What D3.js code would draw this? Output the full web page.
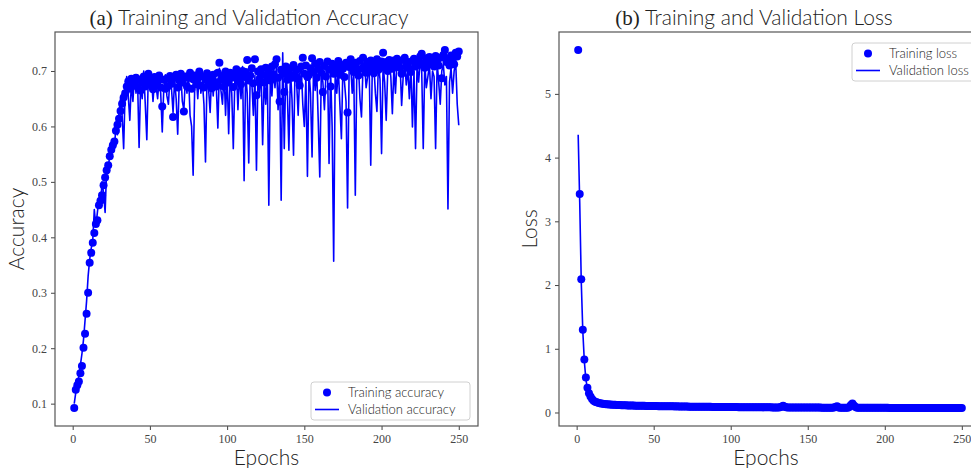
<!DOCTYPE html>
<html>
<head>
<meta charset="utf-8">
<script src="https://cdn.jsdelivr.net/npm/d3@7"></script>
<style>
  body { margin: 0; background: #fff; }
  svg { display: block; }
</style>
</head>
<body>
<svg id="chart" width="971" height="468"></svg>
<script>

// EPOCHS 1..250
let epochs = d3.range(1, 251)

let train_acc = [
  0.092, 0.125, 0.133, 0.140, 0.155, 0.168, 0.201, 0.226, 0.262, 0.300,
  0.354, 0.372, 0.390, 0.408, 0.424, 0.431, 0.458, 0.466, 0.476, 0.494,
  0.508, 0.521, 0.530, 0.546, 0.558, 0.566, 0.573, 0.592, 0.603, 0.614,
  0.628, 0.641, 0.652, 0.660, 0.672, 0.681, 0.668, 0.686, 0.675, 0.683,
  0.688, 0.671, 0.684, 0.665, 0.679, 0.690, 0.672, 0.683, 0.695, 0.686,
  0.678, 0.667, 0.689, 0.674, 0.681, 0.692, 0.670, 0.636, 0.684, 0.668,
  0.686, 0.673, 0.691, 0.677, 0.617, 0.688, 0.693, 0.670, 0.683, 0.695,
  0.679, 0.627, 0.690, 0.672, 0.688, 0.697, 0.668, 0.685, 0.692, 0.676,
  0.687, 0.699, 0.674, 0.690, 0.670, 0.684, 0.696, 0.678, 0.688, 0.669,
  0.693, 0.680, 0.672, 0.697, 0.715, 0.684, 0.691, 0.672, 0.699, 0.687,
  0.679, 0.697, 0.688, 0.671, 0.695, 0.703, 0.682, 0.694, 0.676, 0.700,
  0.689, 0.698, 0.720, 0.683, 0.692, 0.705, 0.678, 0.721, 0.656, 0.699,
  0.686, 0.703, 0.693, 0.679, 0.706, 0.690, 0.699, 0.683, 0.708, 0.694,
  0.712, 0.721, 0.688, 0.645, 0.702, 0.695, 0.662, 0.708, 0.684, 0.697,
  0.705, 0.688, 0.711, 0.693, 0.702, 0.686, 0.674, 0.708, 0.724, 0.695,
  0.710, 0.689, 0.693, 0.705, 0.723, 0.698, 0.713, 0.688, 0.704, 0.716,
  0.697, 0.662, 0.709, 0.690, 0.717, 0.702, 0.672, 0.713, 0.695, 0.708,
  0.700, 0.718, 0.693, 0.711, 0.704, 0.689, 0.715, 0.625, 0.707, 0.721,
  0.710, 0.698, 0.715, 0.702, 0.692, 0.718, 0.704, 0.724, 0.709, 0.697,
  0.716, 0.703, 0.719, 0.708, 0.696, 0.714, 0.721, 0.702, 0.711, 0.717,
  0.733, 0.706, 0.716, 0.700, 0.720, 0.711, 0.704, 0.719, 0.709, 0.722,
  0.713, 0.706, 0.695, 0.720, 0.724, 0.709, 0.716, 0.704, 0.698, 0.718,
  0.722, 0.708, 0.719, 0.712, 0.726, 0.731, 0.714, 0.706, 0.723, 0.711,
  0.725, 0.713, 0.720, 0.708, 0.727, 0.718, 0.710, 0.724, 0.687, 0.729,
  0.738, 0.716, 0.722, 0.710, 0.728, 0.718, 0.712, 0.733, 0.726, 0.735
]

let val_acc = [
  0.100, 0.120, 0.130, 0.150, 0.170, 0.190, 0.215, 0.250, 0.285, 0.330,
  0.360, 0.380, 0.395, 0.450, 0.420, 0.445, 0.470, 0.455, 0.500, 0.480,
  0.445, 0.525, 0.515, 0.555, 0.545, 0.575, 0.560, 0.600, 0.585, 0.625,
  0.650, 0.620, 0.560, 0.668, 0.690, 0.655, 0.611, 0.680, 0.645, 0.692,
  0.660, 0.685, 0.562, 0.678, 0.650, 0.700, 0.640, 0.576, 0.695, 0.668,
  0.690, 0.645, 0.682, 0.672, 0.650, 0.688, 0.660, 0.590, 0.670, 0.693,
  0.655, 0.640, 0.690, 0.668, 0.625, 0.685, 0.650, 0.586, 0.680, 0.695,
  0.645, 0.630, 0.688, 0.660, 0.695, 0.620, 0.600, 0.512, 0.670, 0.690,
  0.650, 0.700, 0.660, 0.680, 0.640, 0.536, 0.690, 0.668, 0.625, 0.696,
  0.655, 0.700, 0.672, 0.597, 0.705, 0.665, 0.640, 0.700, 0.620, 0.698,
  0.587, 0.690, 0.660, 0.560, 0.685, 0.705, 0.630, 0.695, 0.650, 0.708,
  0.502, 0.698, 0.660, 0.534, 0.700, 0.680, 0.620, 0.692, 0.521, 0.700,
  0.660, 0.705, 0.567, 0.690, 0.640, 0.702, 0.458, 0.700, 0.655, 0.706,
  0.670, 0.712, 0.630, 0.700, 0.467, 0.733, 0.560, 0.705, 0.660, 0.557,
  0.702, 0.650, 0.548, 0.710, 0.680, 0.620, 0.695, 0.706, 0.640, 0.600,
  0.690, 0.510, 0.700, 0.660, 0.545, 0.712, 0.665, 0.700, 0.610, 0.509,
  0.700, 0.680, 0.630, 0.695, 0.710, 0.533, 0.700, 0.600, 0.357, 0.705,
  0.660, 0.705, 0.640, 0.578, 0.710, 0.680, 0.645, 0.453, 0.705, 0.712,
  0.660, 0.700, 0.476, 0.705, 0.712, 0.650, 0.617, 0.708, 0.715, 0.670,
  0.690, 0.710, 0.530, 0.705, 0.712, 0.660, 0.627, 0.715, 0.685, 0.551,
  0.712, 0.680, 0.611, 0.700, 0.715, 0.690, 0.623, 0.708, 0.660, 0.718,
  0.705, 0.712, 0.638, 0.690, 0.716, 0.675, 0.705, 0.650, 0.712, 0.599,
  0.700, 0.560, 0.712, 0.680, 0.718, 0.700, 0.560, 0.715, 0.670, 0.690,
  0.712, 0.650, 0.700, 0.690, 0.560, 0.715, 0.680, 0.640, 0.700, 0.712,
  0.675, 0.690, 0.451, 0.680, 0.706, 0.660, 0.700, 0.718, 0.640, 0.602
]

let train_loss = [
  5.690, 3.430, 2.090, 1.300, 0.830, 0.550, 0.390, 0.300, 0.250, 0.210,
  0.185, 0.170, 0.160, 0.152, 0.146, 0.141, 0.137, 0.134, 0.131, 0.129,
  0.127, 0.125, 0.123, 0.121, 0.120, 0.118, 0.117, 0.116, 0.115, 0.114,
  0.113, 0.112, 0.111, 0.110, 0.109, 0.109, 0.108, 0.107, 0.107, 0.106,
  0.105, 0.105, 0.104, 0.104, 0.103, 0.103, 0.102, 0.102, 0.101, 0.101,
  0.100, 0.100, 0.099, 0.099, 0.099, 0.098, 0.098, 0.097, 0.097, 0.097,
  0.096, 0.096, 0.096, 0.095, 0.098, 0.095, 0.094, 0.094, 0.094, 0.093,
  0.093, 0.093, 0.092, 0.092, 0.092, 0.092, 0.091, 0.091, 0.091, 0.090,
  0.090, 0.090, 0.090, 0.089, 0.089, 0.089, 0.089, 0.088, 0.088, 0.088,
  0.088, 0.087, 0.087, 0.087, 0.087, 0.086, 0.086, 0.086, 0.086, 0.085,
  0.085, 0.088, 0.085, 0.085, 0.084, 0.084, 0.084, 0.084, 0.084, 0.083,
  0.083, 0.083, 0.083, 0.083, 0.082, 0.082, 0.082, 0.082, 0.082, 0.082,
  0.081, 0.081, 0.081, 0.081, 0.081, 0.081, 0.080, 0.080, 0.080, 0.080,
  0.080, 0.082, 0.090, 0.105, 0.092, 0.083, 0.080, 0.079, 0.079, 0.079,
  0.079, 0.079, 0.079, 0.078, 0.078, 0.078, 0.078, 0.078, 0.078, 0.078,
  0.077, 0.077, 0.077, 0.077, 0.080, 0.077, 0.077, 0.077, 0.076, 0.076,
  0.076, 0.076, 0.076, 0.076, 0.076, 0.076, 0.078, 0.085, 0.098, 0.080,
  0.076, 0.075, 0.075, 0.075, 0.075, 0.076, 0.088, 0.118, 0.140, 0.110,
  0.085, 0.076, 0.075, 0.075, 0.074, 0.074, 0.074, 0.074, 0.074, 0.074,
  0.074, 0.074, 0.073, 0.073, 0.073, 0.073, 0.073, 0.073, 0.073, 0.073,
  0.073, 0.073, 0.072, 0.072, 0.072, 0.072, 0.072, 0.072, 0.072, 0.072,
  0.072, 0.072, 0.072, 0.071, 0.071, 0.071, 0.071, 0.071, 0.071, 0.071,
  0.071, 0.071, 0.071, 0.071, 0.070, 0.070, 0.070, 0.070, 0.070, 0.070,
  0.070, 0.070, 0.070, 0.070, 0.070, 0.070, 0.069, 0.069, 0.069, 0.069,
  0.069, 0.069, 0.069, 0.069, 0.069, 0.069, 0.069, 0.069, 0.069, 0.069
]

let val_loss = [
  4.360, 3.300, 2.050, 1.280, 0.800, 0.520, 0.370, 0.290, 0.240, 0.200,
  0.178, 0.165, 0.156, 0.149, 0.143, 0.139, 0.135, 0.132, 0.130, 0.128,
  0.126, 0.124, 0.122, 0.121, 0.119, 0.118, 0.117, 0.116, 0.115, 0.114,
  0.114, 0.113, 0.112, 0.111, 0.111, 0.110, 0.109, 0.108, 0.108, 0.107,
  0.107, 0.106, 0.105, 0.105, 0.104, 0.104, 0.103, 0.103, 0.102, 0.102,
  0.101, 0.101, 0.100, 0.100, 0.100, 0.099, 0.099, 0.098, 0.098, 0.098,
  0.097, 0.097, 0.097, 0.096, 0.100, 0.096, 0.095, 0.095, 0.095, 0.094,
  0.094, 0.094, 0.093, 0.093, 0.093, 0.093, 0.092, 0.092, 0.092, 0.091,
  0.091, 0.091, 0.091, 0.090, 0.090, 0.090, 0.090, 0.089, 0.089, 0.089,
  0.089, 0.088, 0.088, 0.088, 0.088, 0.087, 0.087, 0.087, 0.087, 0.086,
  0.086, 0.089, 0.086, 0.086, 0.085, 0.085, 0.085, 0.085, 0.085, 0.084,
  0.084, 0.084, 0.084, 0.084, 0.083, 0.083, 0.083, 0.083, 0.083, 0.083,
  0.082, 0.082, 0.082, 0.082, 0.082, 0.082, 0.081, 0.081, 0.081, 0.081,
  0.081, 0.084, 0.095, 0.100, 0.088, 0.082, 0.081, 0.080, 0.080, 0.080,
  0.080, 0.080, 0.080, 0.079, 0.079, 0.079, 0.079, 0.079, 0.079, 0.079,
  0.078, 0.078, 0.078, 0.078, 0.081, 0.078, 0.078, 0.078, 0.077, 0.077,
  0.077, 0.077, 0.077, 0.077, 0.077, 0.077, 0.079, 0.088, 0.095, 0.081,
  0.077, 0.076, 0.076, 0.076, 0.076, 0.077, 0.092, 0.125, 0.120, 0.098,
  0.082, 0.077, 0.076, 0.076, 0.075, 0.075, 0.075, 0.075, 0.075, 0.075,
  0.075, 0.075, 0.074, 0.074, 0.074, 0.074, 0.074, 0.074, 0.074, 0.074,
  0.074, 0.074, 0.073, 0.073, 0.073, 0.073, 0.073, 0.073, 0.073, 0.073,
  0.073, 0.073, 0.073, 0.072, 0.072, 0.072, 0.072, 0.072, 0.072, 0.072,
  0.072, 0.072, 0.072, 0.072, 0.071, 0.071, 0.071, 0.071, 0.071, 0.071,
  0.071, 0.071, 0.071, 0.071, 0.071, 0.071, 0.070, 0.070, 0.070, 0.070,
  0.070, 0.070, 0.070, 0.070, 0.070, 0.070, 0.070, 0.070, 0.070, 0.070
]

let x_ticks = [0, 50, 100, 150, 200, 250]
let acc_ticks = [0.1, 0.2, 0.3, 0.4, 0.5, 0.6, 0.7]
let loss_ticks = [0, 1, 2, 3, 4, 5]

let svg = d3.select('#chart')

let BLUE = '#0000ff'
let TICK_FONT = '"Liberation Serif", "DejaVu Serif", serif'
let LABEL_FONT = 'Lato, "Noto Sans", sans-serif'

// MATPLOTLIB STYLE 5% MARGINS
function pad(ext){
  let s = ext[1] - ext[0]
  return [ext[0] - 0.05 * s, ext[1] + 0.05 * s]
}

function panel(opts){

  let left = opts.left, right = opts.right, top = 32, bottom = 426

  let x = d3.scaleLinear()
    .domain(pad(d3.extent(epochs)))
    .range([left, right])

  let all_vals = opts.train.concat(opts.val)
  let y = d3.scaleLinear()
    .domain(pad(d3.extent(all_vals)))
    .range([bottom, top])

  let g = svg.append('g')

  // TRAINING DOTS
  g.append('g')
    .selectAll('circle')
    .data(epochs)
    .enter()
    .append('circle')
    .attr('cx', (d) => x(d))
    .attr('cy', (d, i) => y(opts.train[i]))
    .attr('r', 4)
    .attr('fill', BLUE)

  // VALIDATION LINE
  let line = d3.line()
    .x((d) => x(d))
    .y((d, i) => y(opts.val[i]))

  g.append('path')
    .datum(epochs)
    .attr('d', line)
    .attr('fill', 'none')
    .attr('stroke', BLUE)
    .attr('stroke-width', 1.6)
    .attr('stroke-linejoin', 'round')

  // X AXIS
  g.append('g')
    .attr('transform', `translate(0, ${bottom})`)
    .call(d3.axisBottom(x).tickValues(x_ticks).tickSize(4).tickPadding(4).tickSizeOuter(0))
    .call(a => a.select('.domain').remove())
    .attr('color', '#444')
    .attr('font-family', TICK_FONT)
    .attr('font-size', 12)

  // Y AXIS
  g.append('g')
    .attr('transform', `translate(${left}, 0)`)
    .call(d3.axisLeft(y).tickValues(opts.ticks).tickFormat(opts.fmt).tickSize(4).tickPadding(4).tickSizeOuter(0))
    .call(a => a.select('.domain').remove())
    .attr('color', '#444')
    .attr('font-family', TICK_FONT)
    .attr('font-size', 12)

  // FRAME
  g.append('rect')
    .attr('x', left)
    .attr('y', top)
    .attr('width', right - left)
    .attr('height', bottom - top)
    .attr('fill', 'none')
    .attr('stroke', '#555')
    .attr('stroke-width', 1.2)

  // TITLE
  let title = g.append('text')
    .attr('x', opts.title_x)
    .attr('y', 25)
    .attr('text-anchor', 'middle')
    .attr('font-size', 21)
    .attr('fill', '#222')
  title.append('tspan').attr('font-family', TICK_FONT).attr('font-size', 21).text(opts.tag + ' ')
  title.append('tspan').attr('font-family', LABEL_FONT).attr('font-weight', 300).text(opts.title)

  // X LABEL
  g.append('text')
    .attr('x', (left + right) / 2 - (opts.xlab_shift || 0))
    .attr('y', 465)
    .attr('text-anchor', 'middle')
    .attr('font-family', LABEL_FONT)
    .attr('font-weight', 300)
    .attr('font-size', 21)
    .attr('fill', '#222')
    .text('Epochs')

  // Y LABEL
  g.append('text')
    .attr('transform', `translate(${opts.ylab_x}, ${(top + bottom) / 2}) rotate(-90)`)
    .attr('text-anchor', 'middle')
    .attr('font-family', LABEL_FONT)
    .attr('font-weight', 300)
    .attr('font-size', 21)
    .attr('fill', '#222')
    .text(opts.ylabel)

  // LEGEND
  let lg = g.append('g').attr('transform', `translate(${opts.leg_x}, ${opts.leg_y})`)
  lg.append('rect')
    .attr('width', opts.leg_w)
    .attr('height', 38)
    .attr('rx', 3)
    .attr('fill', 'rgba(255,255,255,0.8)')
    .attr('stroke', '#d0d0d0')
  lg.append('circle')
    .attr('cx', 16)
    .attr('cy', 10.5)
    .attr('r', 4)
    .attr('fill', BLUE)
  lg.append('line')
    .attr('x1', 4)
    .attr('x2', 28)
    .attr('y1', 27.5)
    .attr('y2', 27.5)
    .attr('stroke', BLUE)
    .attr('stroke-width', 1.6)
  lg.selectAll('text.item')
    .data(opts.legend)
    .enter()
    .append('text')
    .attr('class', 'item')
    .attr('x', 37)
    .attr('y', (d, i) => 15 + i * 17)
    .attr('font-family', LABEL_FONT)
    .attr('font-weight', 300)
    .attr('font-size', 13)
    .attr('fill', '#222')
    .text(d => d)
}

panel({
  left: 55, right: 478,
  train: train_acc, val: val_acc,
  ticks: acc_ticks, fmt: d3.format('.1f'),
  tag: '(a)', title: 'Training and Validation Accuracy', title_x: 249,
  ylabel: 'Accuracy', ylab_x: 24,
  leg_x: 311, leg_y: 382, leg_w: 159,
  legend: ['Training accuracy', 'Validation accuracy']
})

panel({
  left: 559, right: 981,
  train: train_loss, val: val_loss,
  ticks: loss_ticks, fmt: d3.format('d'),
  tag: '(b)', title: 'Training and Validation Loss', title_x: 754,
  ylabel: 'Loss', ylab_x: 537, xlab_shift: 4,
  leg_x: 852, leg_y: 43, leg_w: 123,
  legend: ['Training loss', 'Validation loss']
})

</script>
</body>
</html>
